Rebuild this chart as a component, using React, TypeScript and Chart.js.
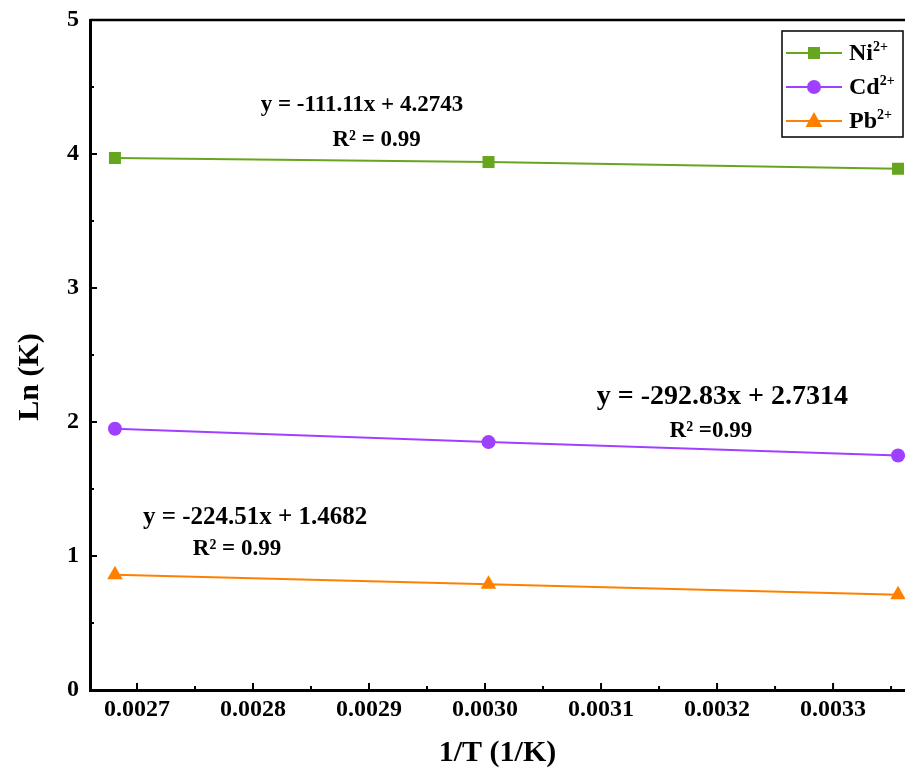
import React, { useEffect, useRef } from 'react';
import { Chart, registerables } from 'chart.js';

Chart.register(...registerables);

// ---------- data ----------
const invT = [0.002681, 0.003003, 0.003356];
const niValues = [3.97, 3.94, 3.89];
const cdValues = [1.95, 1.85, 1.75];
const pbValues = [0.86, 0.79, 0.71];
const xTickValues = [0.0027, 0.0028, 0.0029, 0.003, 0.0031, 0.0032, 0.0033];
const xMinorValues = [0.00275, 0.00285, 0.00295, 0.00305, 0.00315, 0.00325, 0.00335];
const yTickValues = [0, 1, 2, 3, 4, 5];
const yMinorValues = [0.5, 1.5, 2.5, 3.5, 4.5];
const seriesNames = ['Ni', 'Cd', 'Pb'];
const seriesCharge = '2+';
const equations = ['y = -111.11x + 4.2743', 'y = -292.83x + 2.7314', 'y = -224.51x + 1.4682'];
const rSquared = ['R\u00B2 = 0.99', 'R\u00B2 =0.99', 'R\u00B2 = 0.99'];
const xTitle = '1/T (1/K)';
const yTitle = 'Ln (K)';

// ---------- styles / layout ----------
const FONT = "'Liberation Serif', 'Times New Roman', serif";
const colors = ['#66a61e', '#a040ff', '#ff8000'];
const markers = ['rect', 'circle', 'triangle'];
const markerRadius = [8.5, 7, 9];
// annotation anchors in data coordinates: [x, y, fontSize]
const eqAnchors = [
  [0.0028066, 4.366, 23],
  [0.0030963, 2.187, 28],
  [0.0027051, 1.284, 25],
];
const r2Anchors = [
  [0.0028685, 4.104, 23],
  [0.0031591, 1.933, 23],
  [0.0027481, 1.052, 23],
];

const axisDecor = {
  id: 'axisDecor',
  afterDraw(chart: any) {
    const { ctx, chartArea: ca, scales } = chart;
    const x = scales.x;
    const y = scales.y;
    ctx.save();
    ctx.strokeStyle = '#000';
    ctx.lineWidth = 2.5;
    ctx.beginPath();
    ctx.moveTo(ca.left, ca.top);
    ctx.lineTo(ca.right, ca.top);
    ctx.stroke();
    ctx.lineWidth = 2;
    const seg = (x1: number, y1: number, x2: number, y2: number) => {
      ctx.beginPath();
      ctx.moveTo(x1, y1);
      ctx.lineTo(x2, y2);
      ctx.stroke();
    };
    xTickValues.forEach((v) => {
      const p = x.getPixelForValue(v);
      seg(p, ca.bottom, p, ca.bottom - 7);
    });
    xMinorValues.forEach((v) => {
      const p = x.getPixelForValue(v);
      if (p <= ca.right) seg(p, ca.bottom, p, ca.bottom - 4);
    });
    yTickValues.forEach((v) => {
      const p = y.getPixelForValue(v);
      seg(ca.left, p, ca.left + 7, p);
    });
    yMinorValues.forEach((v) => {
      const p = y.getPixelForValue(v);
      seg(ca.left, p, ca.left + 4, p);
    });
    // y-axis title
    ctx.save();
    ctx.translate(30, (ca.top + ca.bottom) / 2 + 22);
    ctx.rotate(-Math.PI / 2);
    ctx.fillStyle = '#000';
    ctx.textAlign = 'center';
    ctx.textBaseline = 'middle';
    ctx.font = `bold 30px ${FONT}`;
    ctx.fillText(yTitle, 0, 0);
    ctx.restore();
    ctx.restore();
  },
};

const annotations = {
  id: 'annotations',
  afterDatasetsDraw(chart: any) {
    const { ctx, scales } = chart;
    const x = scales.x;
    const y = scales.y;
    ctx.save();
    ctx.fillStyle = '#000';
    ctx.textAlign = 'left';
    ctx.textBaseline = 'middle';
    equations.forEach((t, i) => {
      const [ax, ay, fs] = eqAnchors[i];
      ctx.font = `bold ${fs}px ${FONT}`;
      ctx.fillText(t, x.getPixelForValue(ax), y.getPixelForValue(ay));
    });
    rSquared.forEach((t, i) => {
      const [ax, ay, fs] = r2Anchors[i];
      ctx.font = `bold ${fs}px ${FONT}`;
      ctx.fillText(t, x.getPixelForValue(ax), y.getPixelForValue(ay));
    });
    ctx.restore();
  },
};

const customLegend = {
  id: 'customLegend',
  afterDraw(chart: any) {
    const { ctx, chartArea: ca } = chart;
    const left = ca.right - 123;
    const top = ca.top + 11;
    const w = 121;
    const h = 106;
    ctx.save();
    ctx.fillStyle = '#fff';
    ctx.fillRect(left, top, w, h);
    ctx.strokeStyle = '#000';
    ctx.lineWidth = 1.5;
    ctx.strokeRect(left, top, w, h);
    seriesNames.forEach((name, i) => {
      const rowY = top + 22 + i * 34;
      ctx.strokeStyle = colors[i];
      ctx.fillStyle = colors[i];
      ctx.lineWidth = 2;
      ctx.beginPath();
      ctx.moveTo(left + 4, rowY);
      ctx.lineTo(left + 60, rowY);
      ctx.stroke();
      const mx = left + 32;
      ctx.beginPath();
      if (markers[i] === 'rect') {
        ctx.rect(mx - 6, rowY - 6, 12, 12);
      } else if (markers[i] === 'circle') {
        ctx.arc(mx, rowY, 7, 0, Math.PI * 2);
      } else {
        ctx.moveTo(mx, rowY - 9);
        ctx.lineTo(mx + 8.5, rowY + 6);
        ctx.lineTo(mx - 8.5, rowY + 6);
        ctx.closePath();
      }
      ctx.fill();
      ctx.fillStyle = '#000';
      ctx.textAlign = 'left';
      ctx.textBaseline = 'alphabetic';
      ctx.font = `bold 24px ${FONT}`;
      const tx = left + 67;
      const by = rowY + 7;
      ctx.fillText(name, tx, by);
      const nw = ctx.measureText(name).width;
      ctx.font = `bold 14px ${FONT}`;
      ctx.fillText(seriesCharge, tx + nw, by - 9);
    });
    ctx.restore();
  },
};

export default function App() {
  const ref = useRef<HTMLCanvasElement>(null);
  useEffect(() => {
    const mk = (i: number, vals: number[]) => ({
      label: seriesNames[i] + seriesCharge,
      data: invT.map((t, k) => ({ x: t, y: vals[k] })),
      borderColor: colors[i],
      backgroundColor: colors[i],
      borderWidth: 2,
      pointStyle: markers[i],
      pointRadius: markerRadius[i],
      pointHoverRadius: markerRadius[i],
      pointBorderWidth: 0,
      tension: 0,
      clip: false,
    });
    const chart = new Chart(ref.current!, {
      type: 'line',
      data: {
        datasets: [mk(0, niValues), mk(1, cdValues), mk(2, pbValues)],
      },
      options: {
        animation: false,
        responsive: false,
        devicePixelRatio: 1,
        layout: { autoPadding: false, padding: { top: 20, right: 0, left: 0, bottom: 0 } },
        plugins: { legend: { display: false }, tooltip: { enabled: false } },
        scales: {
          x: {
            type: 'linear',
            min: 0.0026595,
            max: 0.003362,
            afterBuildTicks: (s: any) => {
              s.ticks = xTickValues.map((v) => ({ value: v }));
            },
            afterFit: (s: any) => {
              s.height = 81;
              s.paddingLeft = 0;
              s.paddingRight = 0;
            },
            grid: { display: false, drawTicks: false },
            border: { display: true, color: '#000', width: 3 },
            ticks: {
              autoSkip: false,
              maxRotation: 0,
              padding: 5,
              color: '#000',
              font: { family: FONT, size: 24, weight: 'bold' },
              callback: (v: any) => Number(v).toFixed(4),
            },
            title: {
              display: true,
              text: xTitle,
              color: '#000',
              font: { family: FONT, size: 30, weight: 'bold' },
              padding: { top: 0, bottom: 0 },
            },
          },
          y: {
            type: 'linear',
            min: 0,
            max: 5,
            afterBuildTicks: (s: any) => {
              s.ticks = yTickValues.map((v) => ({ value: v }));
            },
            afterFit: (s: any) => {
              s.width = 90;
              s.paddingTop = 0;
              s.paddingBottom = 0;
            },
            grid: { display: false, drawTicks: false },
            border: { display: true, color: '#000', width: 3 },
            ticks: {
              padding: 11,
              color: '#000',
              font: { family: FONT, size: 24, weight: 'bold' },
              callback: (v: any) => String(v),
            },
            title: { display: false },
          },
        },
      } as any,
      plugins: [axisDecor, annotations, customLegend],
    });
    return () => chart.destroy();
  }, []);
  return (
    <div style={{ position: 'absolute', left: 0, top: 0, width: 905, height: 771, background: '#fff' }}>
      <canvas ref={ref} width={905} height={771} />
    </div>
  );
}
